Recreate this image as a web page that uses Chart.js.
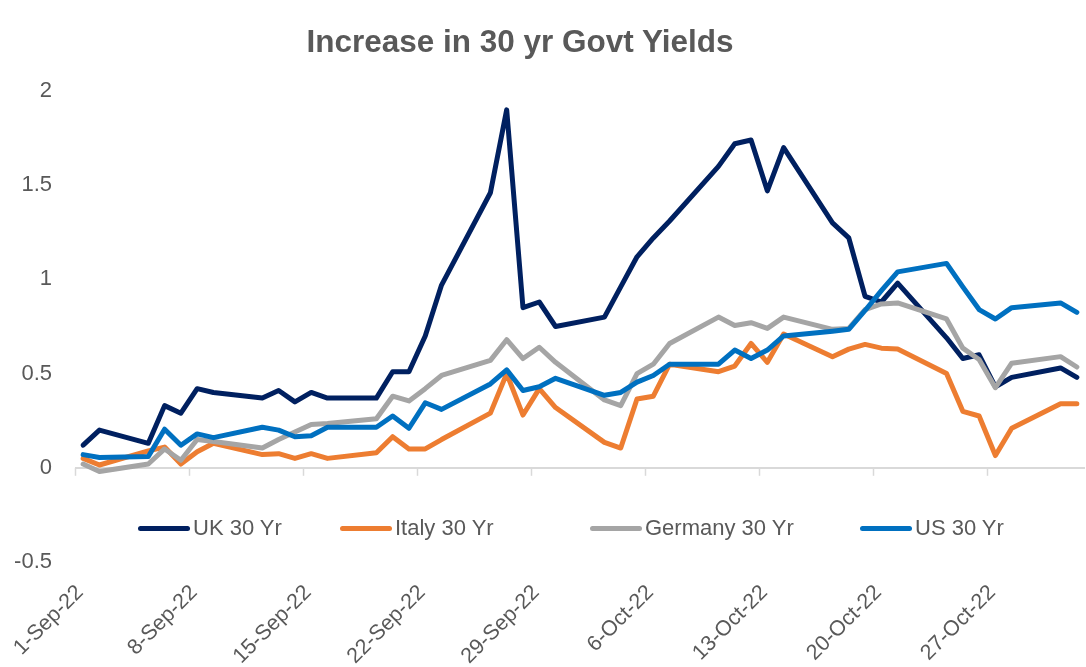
<!DOCTYPE html>
<html><head><meta charset="utf-8">
<script src="https://cdn.jsdelivr.net/npm/chart.js@4.4.1/dist/chart.umd.min.js"></script>
<style>
html,body{margin:0;padding:0;background:#fff;}
#wrap{position:relative;width:1086px;height:667px;overflow:hidden;}
#c{position:absolute;left:0;top:0;}
#title{position:absolute;left:0;top:25px;width:1040px;text-align:center;font:bold 31.5px 'Liberation Sans',Arial,sans-serif;line-height:32px;color:#595959;}
#legend{position:absolute;top:513px;left:0;width:1086px;height:30px;}
.li{position:absolute;top:0;display:flex;align-items:center;height:30px;font:22px 'Liberation Sans',Arial,sans-serif;color:#595959;white-space:nowrap;}
.sw{width:52px;height:5px;border-radius:3px;margin-right:3px;}
</style></head><body>
<div id="wrap">
<canvas id="c" width="1086" height="667"></canvas>
<div id="title">Increase in 30 yr Govt Yields</div>
<div id="legend"></div>
</div>
<script>
// Trading dates
const dates = ['2022-09-01','2022-09-02','2022-09-05','2022-09-06','2022-09-07','2022-09-08','2022-09-09',
'2022-09-12','2022-09-13','2022-09-14','2022-09-15','2022-09-16','2022-09-19','2022-09-20','2022-09-21','2022-09-22','2022-09-23',
'2022-09-26','2022-09-27','2022-09-28','2022-09-29','2022-09-30','2022-10-03','2022-10-04','2022-10-05','2022-10-06','2022-10-07',
'2022-10-10','2022-10-11','2022-10-12','2022-10-13','2022-10-14','2022-10-17','2022-10-18','2022-10-19','2022-10-20','2022-10-21',
'2022-10-24','2022-10-25','2022-10-26','2022-10-27','2022-10-28','2022-10-31','2022-11-01'];

const seriesNames = ['UK 30 Yr','Italy 30 Yr','Germany 30 Yr','US 30 Yr'];

const uk = [0.12,0.20,0.13,0.33,0.29,0.42,0.40,
0.37,0.41,0.35,0.40,0.37,0.37,0.51,0.51,0.70,0.97,
1.46,1.90,0.85,0.88,0.75,0.80,0.96,1.12,1.22,1.31,
1.60,1.72,1.74,1.47,1.70,1.30,1.22,0.91,0.88,0.98,
0.69,0.58,0.60,0.43,0.48,0.53,0.48];

const italy = [0.05,0.015,0.09,0.11,0.02,0.085,0.13,
0.07,0.075,0.05,0.075,0.05,0.08,0.165,0.10,0.10,0.15,
0.29,0.50,0.28,0.42,0.32,0.135,0.105,0.365,0.38,0.55,
0.51,0.54,0.66,0.56,0.71,0.59,0.63,0.655,0.635,0.63,
0.50,0.30,0.275,0.065,0.21,0.34,0.34];

const germany = [0.02,-0.02,0.02,0.10,0.04,0.15,0.14,
0.105,0.15,0.19,0.23,0.235,0.26,0.38,0.355,0.42,0.49,
0.57,0.68,0.58,0.64,0.56,0.36,0.33,0.50,0.55,0.66,
0.80,0.755,0.77,0.74,0.80,0.735,0.74,0.84,0.87,0.875,
0.79,0.635,0.575,0.425,0.555,0.59,0.535];

const us = [0.07,0.055,0.06,0.205,0.12,0.18,0.16,
0.215,0.20,0.165,0.17,0.215,0.215,0.275,0.21,0.345,0.31,
0.445,0.52,0.41,0.43,0.475,0.385,0.40,0.455,0.49,0.55,
0.55,0.625,0.58,0.625,0.70,0.725,0.735,0.835,0.94,1.04,
1.085,0.96,0.84,0.79,0.85,0.875,0.825];

const yTicks = [-0.5,0,0.5,1,1.5,2];
const xTickDays = [0,7,14,21,28,35,42,49,56];

const colors = ['#002060','#ED7D31','#A5A5A5','#0070C0'];
const months = ['Jan','Feb','Mar','Apr','May','Jun','Jul','Aug','Sep','Oct','Nov','Dec'];
const base = Date.UTC(2022,8,1);
const dayOf = s => { const [Y,M,D] = s.split('-').map(Number); return Math.round((Date.UTC(Y,M-1,D)-base)/86400000); };
const labelOf = d => { const dt = new Date(base + d*86400000); return dt.getUTCDate()+'-'+months[dt.getUTCMonth()]+'-22'; };

const allSeries = [uk, italy, germany, us];
const datasets = allSeries.map((vals,i)=>({
  label: seriesNames[i],
  data: vals.map((v,j)=>({x: dayOf(dates[j]) + 0.5, y: v})),
  borderColor: colors[i],
  backgroundColor: colors[i],
  borderWidth: 5,
  pointRadius: 0,
  tension: 0,
  borderJoinStyle: 'round',
  borderCapStyle: 'round',
  order: 4 - i
}));

const FONT = "'Liberation Sans', Arial, sans-serif";

const tickMarks = {
  id: 'tickMarks',
  beforeDatasetsDraw(chart){
    const {ctx, scales:{x,y}} = chart;
    const y0 = y.getPixelForValue(0);
    ctx.save();
    ctx.strokeStyle = '#d9d9d9';
    ctx.lineWidth = 1.5;
    x.ticks.forEach(t=>{
      const px = Math.round(x.getPixelForValue(t.value)) + 0.5;
      ctx.beginPath(); ctx.moveTo(px, y0); ctx.lineTo(px, y0 + 8); ctx.stroke();
    });
    ctx.restore();
  }
};

const chart = new Chart(document.getElementById('c'), {
  type: 'line',
  data: { datasets },
  options: {
    responsive: false,
    animation: false,
    layout: { padding: { top: 91, right: 1, bottom: 0, left: 0 } },
    plugins: { legend: { display: false }, title: { display: false }, tooltip: { enabled: false } },
    scales: {
      x: {
        type: 'linear',
        min: 0, max: 62,
        grid: { display: false, drawTicks: false },
        border: { display: false },
        afterBuildTicks: s => { s.ticks = xTickDays.map(v => ({value: v})); },
        afterFit: s => { s.height = 105; s.paddingLeft = 0; s.paddingRight = 0; },
        ticks: {
          autoSkip: false, minRotation: 45, maxRotation: 45, padding: 18, labelOffset: 5,
          color: '#595959', font: { family: FONT, size: 21.5 },
          callback: v => labelOf(v)
        }
      },
      y: {
        min: -0.5, max: 2,
        afterBuildTicks: s => { s.ticks = yTicks.map(v => ({value: v})); },
        afterFit: s => { s.width = 75; },
        grid: { drawTicks: false, lineWidth: 2, color: c => (c.tick && c.tick.value === 0) ? '#d9d9d9' : 'rgba(0,0,0,0)' },
        border: { display: false },
        ticks: { padding: 23, color: '#595959', font: { family: FONT, size: 22 }, callback: v => String(v) }
      }
    }
  },
  plugins: [tickMarks]
});

// HTML legend built from the chart's datasets
const legendLefts = [138, 340, 590, 860];
const leg = document.getElementById('legend');
chart.data.datasets.forEach((ds, i) => {
  const item = document.createElement('div');
  item.className = 'li';
  item.style.left = legendLefts[i] + 'px';
  const sw = document.createElement('div');
  sw.className = 'sw';
  sw.style.background = ds.borderColor;
  const tx = document.createElement('span');
  tx.textContent = ds.label;
  item.appendChild(sw); item.appendChild(tx);
  leg.appendChild(item);
});
</script>
</body></html>
